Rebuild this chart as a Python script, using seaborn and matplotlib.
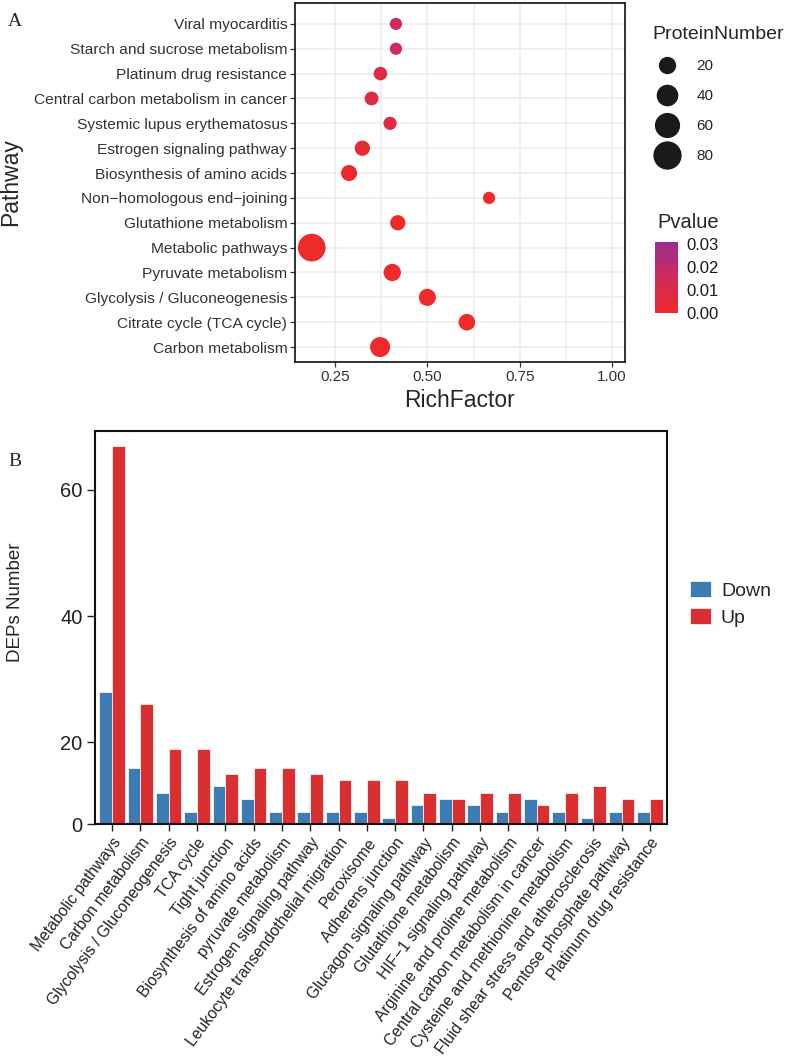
import matplotlib
matplotlib.use("Agg")
import matplotlib.pyplot as plt
import seaborn as sns
import pandas as pd
import numpy as np
from matplotlib.colors import LinearSegmentedColormap, Normalize
from matplotlib.cm import ScalarMappable
from matplotlib.lines import Line2D
from matplotlib.ticker import FormatStrFormatter

# panel A: KEGG enrichment bubble chart (listed top to bottom)
pathways = [
    "Viral myocarditis", "Starch and sucrose metabolism", "Platinum drug resistance",
    "Central carbon metabolism in cancer", "Systemic lupus erythematosus",
    "Estrogen signaling pathway", "Biosynthesis of amino acids",
    "Non\u2212homologous end\u2212joining", "Glutathione metabolism", "Metabolic pathways",
    "Pyruvate metabolism", "Glycolysis / Gluconeogenesis", "Citrate cycle (TCA cycle)",
    "Carbon metabolism",
]
rich_factor = [0.415, 0.415, 0.373, 0.349, 0.399, 0.324, 0.288,
               0.667, 0.420, 0.187, 0.405, 0.500, 0.607, 0.372]
protein_number = [2, 2, 6, 7, 5, 12, 15, 2, 12, 76, 20, 19, 17, 32]
pvalue = [0.015, 0.014, 0.009, 0.009, 0.007, 0.003, 0.0012,
          0.0005, 0.0004, 0.0001, 0.0001, 0.00005, 0.00001, 0.000001]

size_breaks = [20, 40, 60, 80]
p_breaks = [0.00, 0.01, 0.02, 0.03]

# panel B: up / down regulated protein counts per pathway
terms = [
    "Metabolic pathways", "Carbon metabolism", "Glycolysis / Gluconeogenesis", "TCA cycle",
    "Tight junction", "Biosynthesis of amino acids", "pyruvate metabolism",
    "Estrogen signaling pathway", "Leukocyte transendothelial migration", "Peroxisome",
    "Adherens junction", "Glucagon signaling pathway", "Glutathione metabolism",
    "HIF\u22121 signaling pathway", "Arginine and proline metabolism",
    "Central carbon metabolism in cancer", "Cysteine and methionine metabolism",
    "Fluid shear stress and atherosclerosis", "Pentose phosphate pathway",
    "Platinum drug resistance",
]
down_counts = [28, 16, 12, 9, 13, 11, 9, 9, 9, 9, 8, 10, 11, 10, 9, 11, 9, 8, 9, 9]
up_counts = [67, 26, 19, 19, 15, 16, 16, 15, 14, 14, 14, 12, 11, 12, 12, 10, 12, 13, 11, 11]
y_floor = 7.05

sns.set_theme(style="white")
plt.rcParams["font.family"] = ["Liberation Sans", "DejaVu Sans"]

fig = plt.figure(figsize=(7.9, 10.6), dpi=100)
W, H = 790, 1060

# ---------------- panel A ----------------
ax1 = fig.add_axes([295 / W, 1 - 362 / H, 330 / W, 359 / H])
enrich = pd.DataFrame({"Pathway": pathways, "RichFactor": rich_factor,
                       "ProteinNumber": protein_number, "Pvalue": pvalue})
p_cmap = LinearSegmentedColormap.from_list("pv", ["#EE2A2A", "#D02A5E", "#9C2C92"])
p_norm = Normalize(0, 0.031)
size_range = (69, 415)
size_norm = (0, 80)

sns.scatterplot(data=enrich, x="RichFactor", y="Pathway", size="ProteinNumber",
                sizes=size_range, size_norm=size_norm, hue="Pvalue", palette=p_cmap,
                hue_norm=p_norm, linewidth=0, alpha=1, legend=False, ax=ax1, zorder=3)

ax1.set_xlim(0.1417, 1.035)
ax1.set_ylim(len(pathways) - 0.4, -0.84)
ax1.set_xticks([0.25, 0.5, 0.75, 1.0])
ax1.set_xticklabels(["0.25", "0.50", "0.75", "1.00"])
ax1.set_xticks([0.375, 0.625, 0.875], minor=True)
ax1.grid(True, which="both", color="#EBEBEB", lw=1.1)
ax1.set_axisbelow(True)
ax1.tick_params(which="major", length=3.5, width=0.9, color="#333333",
                labelsize=11, labelcolor="#333333", pad=2, left=True, bottom=True)
ax1.tick_params(axis="y", labelsize=11.15)
ax1.tick_params(which="minor", length=0)
for s in ax1.spines.values():
    s.set_color("#222222")
    s.set_linewidth(1.3)
ax1.set_xlabel("RichFactor", fontsize=16.5, labelpad=4)
ax1.set_ylabel("Pathway", fontsize=16.5)
ax1.yaxis.set_label_coords(-0.827, 0.5)


def marker_area(v):
    return size_range[0] + (size_range[1] - size_range[0]) * (v - size_norm[0]) / (size_norm[1] - size_norm[0])


handles = [Line2D([], [], marker="o", ls="", color="#1a1a1a", markeredgewidth=0,
                  markersize=np.sqrt(marker_area(v))) for v in size_breaks]
leg = fig.legend(handles, [str(v) for v in size_breaks], title="ProteinNumber",
                 loc="upper left", bbox_to_anchor=(646 / W, 1 - 20 / H), frameon=False,
                 fontsize=11, title_fontsize=14, labelspacing=1.05, handletextpad=0.9,
                 borderaxespad=0, alignment="left")

cax = fig.add_axes([655 / W, 1 - 313 / H, 23 / W, 71 / H])
cb = fig.colorbar(ScalarMappable(norm=p_norm, cmap=p_cmap), cax=cax, ticks=p_breaks)
cb.outline.set_visible(False)
cax.yaxis.set_major_formatter(FormatStrFormatter("%.2f"))
cax.tick_params(axis="y", direction="in", length=4, width=0.8, color="white",
                labelsize=12, labelcolor="#1a1a1a", left=True, right=True,
                labelleft=False, labelright=True, pad=6)
fig.text(657 / W, 1 - 222 / H, "Pvalue", fontsize=14.5, va="center", ha="left")

# ---------------- panel B ----------------
ax2 = fig.add_axes([95 / W, 1 - 824 / H, 572 / W, 393 / H])
degs = pd.DataFrame({
    "Term": terms * 2,
    "Count": down_counts + up_counts,
    "Regulation": ["Down"] * len(terms) + ["Up"] * len(terms),
})
sns.barplot(data=degs, x="Term", y="Count", hue="Regulation",
            palette={"Down": "#3D7CB3", "Up": "#DA2F30"}, width=0.9, saturation=1,
            edgecolor="#f4f4f4", linewidth=0.6, ax=ax2)
ax2.set_xlim(-0.6, len(terms) - 0.4)
ax2.set_ylim(y_floor, 69.35)
ax2.set_yticks([y_floor, 20, 40, 60])
ax2.set_yticklabels(["0", "20", "40", "60"])
ax2.set_xticks(range(len(terms)))
ax2.set_xticklabels(terms, rotation=53, ha="right", rotation_mode="anchor", fontsize=11.3)
ax2.tick_params(axis="y", length=6, width=1, color="#222222", labelsize=14.5,
                labelcolor="#222222", pad=3, left=True)
ax2.tick_params(axis="x", length=5, width=1, color="#222222", labelcolor="#222222",
                pad=3, bottom=True)
for s in ax2.spines.values():
    s.set_color("#111111")
    s.set_linewidth(1.5)
ax2.set_xlabel("")
ax2.set_ylabel("DEPs Number", fontsize=13.5)
ax2.yaxis.set_label_coords(-0.124, 0.565)
sns.move_legend(ax2, "center left", bbox_to_anchor=(1.04, 0.56), title=None,
                frameon=False, fontsize=14, handlelength=1.1, handleheight=0.9,
                labelspacing=0.45, handletextpad=0.5, borderaxespad=0, borderpad=0)

fig.text(8 / W, 1 - 22 / H, "A", family="Liberation Serif", fontsize=14, va="center")
fig.text(8 / W, 1 - 462 / H, "B", family="Liberation Serif", fontsize=14, va="center")

fig.savefig("out.png", dpi=100)
